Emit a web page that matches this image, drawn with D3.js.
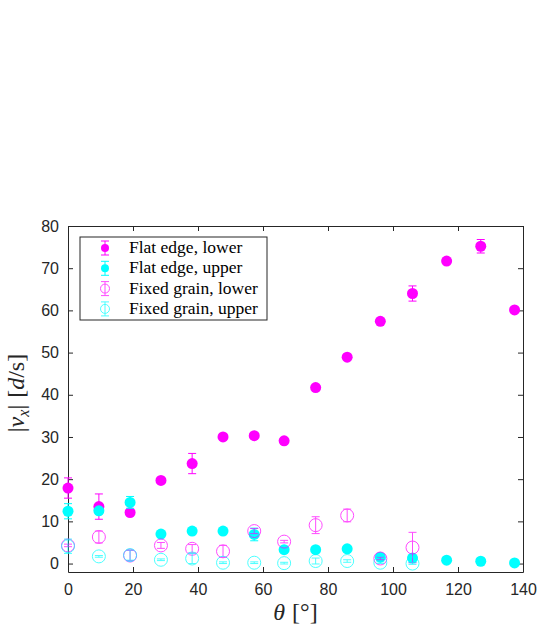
<!DOCTYPE html>
<html>
<head>
<meta charset="utf-8">
<script src="https://cdn.jsdelivr.net/npm/d3@7"></script>
<style>
  body { margin: 0; background: #fff; }
  svg { display: block; }
</style>
</head>
<body>
<div id="chart"></div>
<script>
// angles (degrees)
var theta = [0, 9.5, 19.1, 28.6, 38.2, 47.7, 57.3, 66.5, 76.2, 85.9, 96.1, 106, 116.5, 127, 137.4];

// Flat edge, lower (filled magenta)
var flatLower    = [17.9, 13.5, 12.1, 19.7, 23.7, 30.0, 30.3, 29.1, 41.7, 48.9, 57.4, 64.0, 71.7, 75.2, 60.1];
var flatLowerErr = [2.4, 3.0, 0.4, 0.3, 2.4, 0.3, 0.3, 0.3, 0.3, 0.3, 0.3, 1.8, 0.3, 1.6, 0.3];

// Flat edge, upper (filled cyan)
var flatUpper    = [12.4, 12.5, 14.5, 7.0, 7.7, 7.7, 6.9, 3.3, 3.3, 3.5, 1.5, 1.3, 0.8, 0.55, 0.15];
var flatUpperErr = [1.8, 0.5, 1.4, 0.3, 0.3, 0.3, 1.5, 0.3, 0.3, 0.3, 0.3, 0.3, 0.3, 0.3, 0.3];

// Fixed grain, lower (open magenta), only up to 106
var fixedLower    = [4.3, 6.3, 1.9, 4.3, 3.5, 2.9, 7.7, 5.2, 9.1, 11.4, 1.2, 3.8];
var fixedLowerErr = [0.3, 1.4, 1.2, 0.7, 1.0, 1.4, 0.6, 0.3, 2.0, 1.5, 0.3, 3.6];

// Fixed grain, upper (open cyan)
var fixedUpper    = [4.1, 1.7, 2.0, 0.9, 1.2, 0.2, 0.2, 0.1, 0.6, 0.6, 0.2, 0.0];
var fixedUpperErr = [1.7, 0.2, 1.2, 0.2, 1.2, 0.2, 0.2, 0.2, 0.7, 0.3, 0.2, 0.2];

var xTicks = [0, 20, 40, 60, 80, 100, 120, 140];
var yTicks = [0, 10, 20, 30, 40, 50, 60, 70, 80];

var legendLabels = ["Flat edge, lower", "Flat edge, upper", "Fixed grain, lower", "Fixed grain, upper"];

var MAG = "#ff00ff", CYA = "#00ffff", AX = "#262626";

// set the dimensions and margins of the graph
var margin = {top: 226, right: 16, bottom: 63, left: 68},
    width = 539 - margin.left - margin.right,
    height = 635 - margin.top - margin.bottom;

var svg = d3.select("#chart")
  .append("svg")
    .attr("width", 539)
    .attr("height", 635)
  .append("g")
    .attr("transform", "translate(" + margin.left + "," + margin.top + ")");

var x = d3.scaleLinear().domain([0, 140]).range([0, width]);
var y = d3.scaleLinear().domain([-2, 80]).range([height, 0]);

// axes with inward ticks on all four sides (MATLAB box on)
function styleAxis(g) {
  g.select(".domain").attr("stroke", AX);
  g.selectAll(".tick line").attr("stroke", AX);
  g.selectAll(".tick text").attr("fill", AX)
    .style("font-family", "'Liberation Sans', Arial, sans-serif")
    .style("font-size", "16px");
}
svg.append("g")
  .attr("transform", "translate(0," + height + ")")
  .call(d3.axisBottom(x).tickValues(xTicks).tickSizeInner(-5).tickSizeOuter(0).tickPadding(12))
  .call(styleAxis);
svg.append("g")
  .call(d3.axisTop(x).tickValues(xTicks).tickSizeInner(-5).tickSizeOuter(0).tickFormat(""))
  .call(styleAxis);
svg.append("g")
  .call(d3.axisLeft(y).tickValues(yTicks).tickSizeInner(-5).tickSizeOuter(0).tickPadding(9))
  .call(styleAxis);
svg.append("g")
  .attr("transform", "translate(" + width + ",0)")
  .call(d3.axisRight(y).tickValues(yTicks).tickSizeInner(-5).tickSizeOuter(0).tickFormat(""))
  .call(styleAxis);

function drawSeries(vals, errs, color, filled) {
  var data = vals.map(function(v, i) { return {t: theta[i], v: v, e: errs[i]}; });
  var g = svg.append("g").attr("opacity", filled ? 1 : 0.7);
  var cap = 4;
  data.forEach(function(d) {
    var cx = x(d.t), y0 = y(d.v - d.e), y1 = y(d.v + d.e);
    g.append("circle")
      .attr("cx", cx).attr("cy", y(d.v))
      .attr("r", filled ? 5.5 : 6.5)
      .attr("fill", filled ? color : "none")
      .attr("stroke", color)
      .attr("stroke-width", filled ? 0 : 1);
    g.append("path")
      .attr("d", "M" + (cx - cap) + "," + y0 + "H" + (cx + cap) +
                 "M" + cx + "," + y0 + "V" + y1 +
                 "M" + (cx - cap) + "," + y1 + "H" + (cx + cap))
      .attr("stroke", color)
      .attr("stroke-width", 1)
      .attr("fill", "none");
  });
}

drawSeries(flatLower, flatLowerErr, MAG, true);
drawSeries(flatUpper, flatUpperErr, CYA, true);
drawSeries(fixedLower, fixedLowerErr, MAG, false);
drawSeries(fixedUpper, fixedUpperErr, CYA, false);

// legend
var lg = svg.append("g").attr("transform", "translate(12,11)");
lg.append("rect")
  .attr("width", 187).attr("height", 83)
  .attr("fill", "#fff").attr("stroke", AX).attr("stroke-width", 1);
var styles = [[MAG, true], [CYA, true], [MAG, false], [CYA, false]];
legendLabels.forEach(function(lab, i) {
  var cy = 11 + i * 20.3;
  var c = styles[i][0], f = styles[i][1];
  var e = lg.append("g").attr("opacity", f ? 1 : 0.7);
  e.append("path")
    .attr("d", "M21," + (cy - 7) + "H29M25," + (cy - 7) + "V" + (cy + 7) + "M21," + (cy + 7) + "H29")
    .attr("stroke", c).attr("fill", "none");
  e.append("circle").attr("cx", 25).attr("cy", cy).attr("r", f ? 4 : 4.5)
    .attr("fill", f ? c : "none").attr("stroke", c).attr("stroke-width", f ? 0 : 1);
  lg.append("text")
    .attr("x", 49).attr("y", cy + 5)
    .attr("fill", "#000")
    .style("font-family", "'Liberation Serif', 'DejaVu Serif', serif")
    .style("font-size", "17.5px")
    .text(lab);
});

// x label
var xl = svg.append("text")
  .attr("x", width / 2).attr("y", height + 48)
  .attr("text-anchor", "middle")
  .attr("fill", AX)
  .style("font-family", "'Liberation Serif', serif")
  .style("font-size", "24px");
xl.append("tspan").style("font-style", "italic").text("θ");
xl.append("tspan").attr("dx", 7).text("[°]");

// y label
var yl = svg.append("text")
  .attr("transform", "translate(-44," + (height / 2 - 6) + ") rotate(-90)")
  .attr("text-anchor", "middle")
  .attr("fill", AX)
  .style("font-family", "'Liberation Serif', serif")
  .style("font-size", "24px");
yl.append("tspan").text("|");
yl.append("tspan").style("font-style", "italic").text("v");
yl.append("tspan").style("font-style", "italic").style("font-size", "16px").attr("dy", 5).text("x");
yl.append("tspan").attr("dy", -5).text("|");
yl.append("tspan").attr("dx", 7).text("[");
yl.append("tspan").style("font-style", "italic").text("d");
yl.append("tspan").text("/s]");
</script>
</body>
</html>
